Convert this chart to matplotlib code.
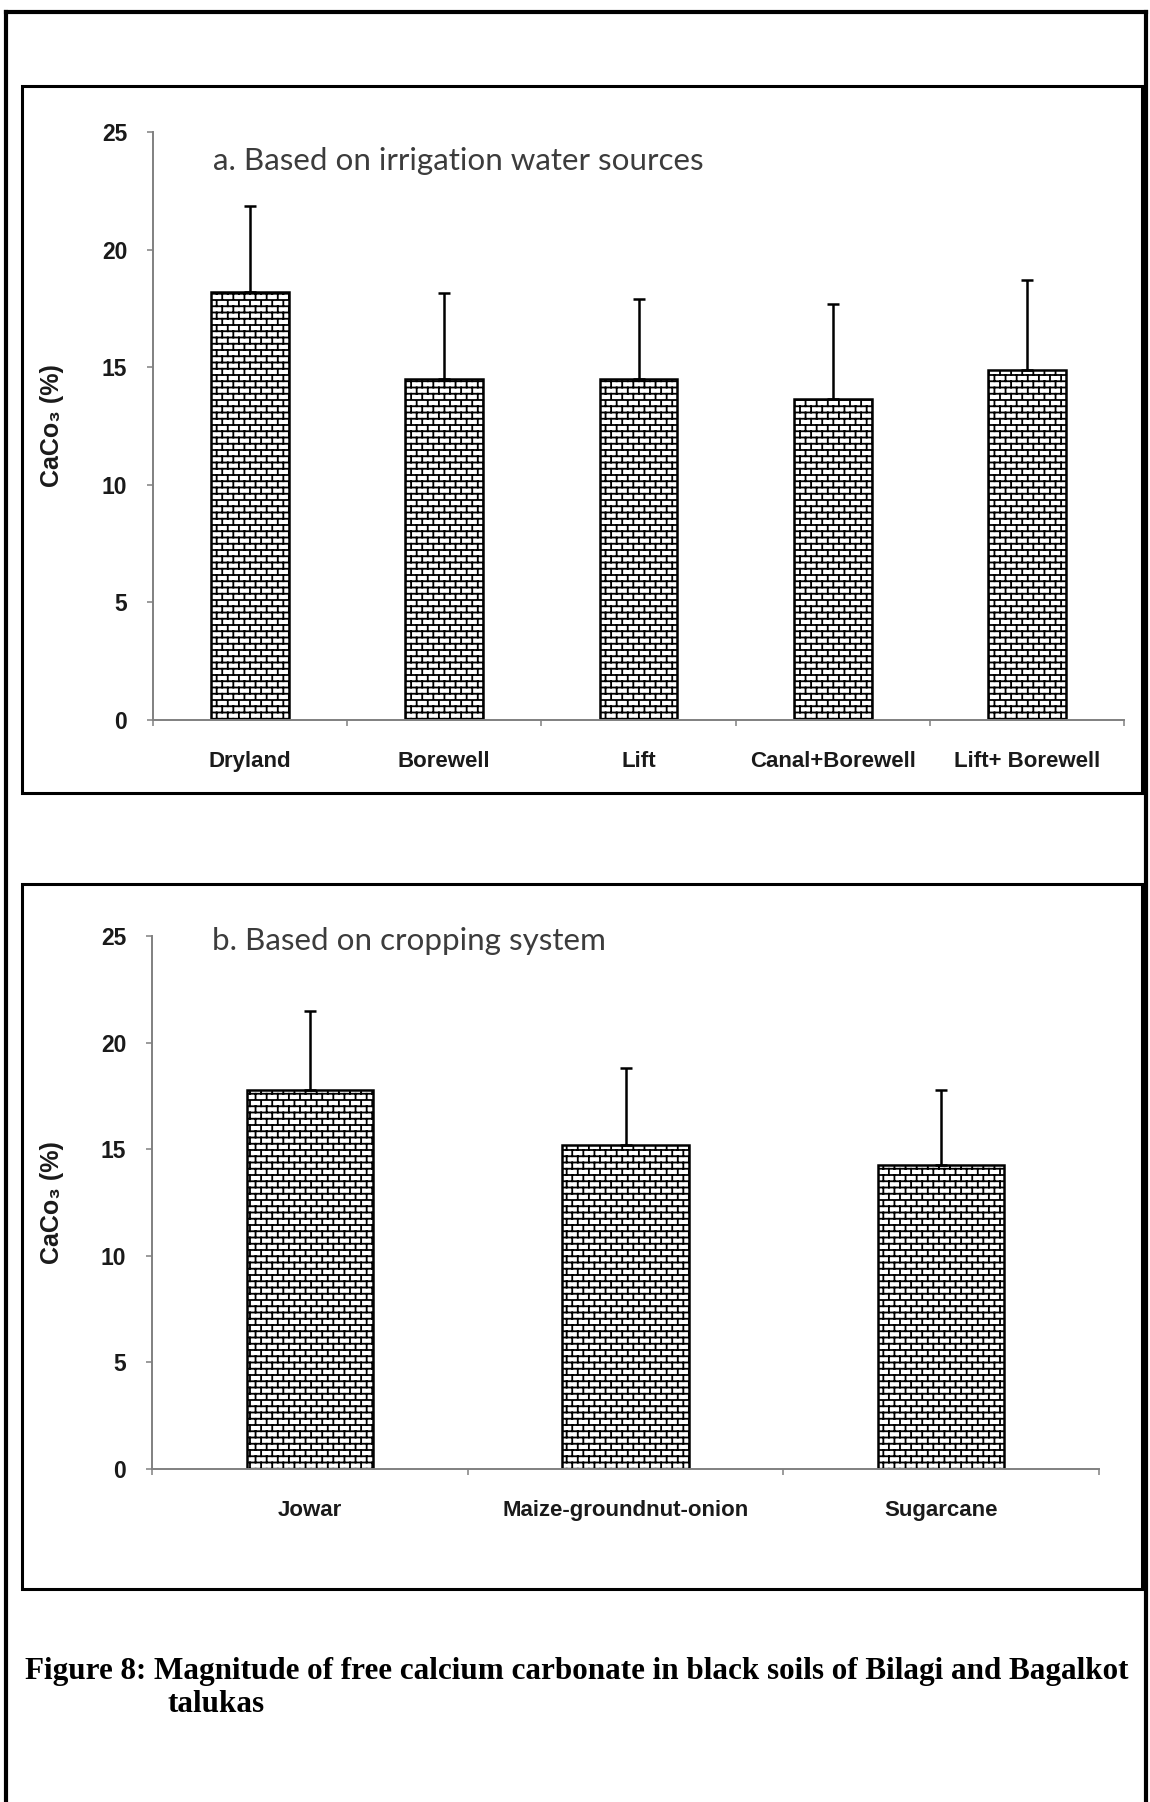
import warnings
import numpy as np
import matplotlib
matplotlib.use('Agg')
import matplotlib.pyplot as plt
import matplotlib.hatch as mhatch
from matplotlib.path import Path
from matplotlib.patches import Rectangle
from matplotlib.lines import Line2D

# verdier lest av figuren
kilder = ['Dryland', 'Borewell', 'Lift', 'Canal+Borewell', 'Lift+ Borewell']
kilde_verdi = [18.2, 14.5, 14.5, 13.65, 14.9]
kilde_sd = [3.65, 3.65, 3.4, 4.05, 3.8]

system = ['Jowar', 'Maize-groundnut-onion', 'Sugarcane']
system_verdi = [17.8, 15.2, 14.25]
system_sd = [3.7, 3.6, 3.55]

yticks = [0, 5, 10, 15, 20, 25]

tittel_a = 'a. Based on irrigation water sources'
tittel_b = 'b. Based on cropping system'
ylabel = 'CaCo\u2083 (%)'
caption1 = 'Figure 8: Magnitude of free calcium carbonate in black soils of Bilagi and Bagalkot'
caption2 = 'talukas'

W, H = 1150, 1802

plt.rcParams['font.family'] = ['Liberation Sans', 'DejaVu Sans']
plt.rcParams['hatch.linewidth'] = 1.3


# murstein-skravur, finnes ikke i matplotlib
class BrickHatch(mhatch.HatchPatternBase):
    def __init__(self, hatch, density):
        n = hatch.count('b')
        self.segs = []
        if n:
            rows, cols = 16 * n, 9 * n
            for k in range(rows + 1):
                self.segs.append(((0, k / rows), (1, k / rows)))
            for k in range(rows):
                if k % 2 == 0:
                    xs = [j / cols for j in range(cols + 1)]
                else:
                    xs = [(j + 0.5) / cols for j in range(cols)]
                for x in xs:
                    self.segs.append(((x, k / rows), (x, (k + 1) / rows)))
        self.num_vertices = 2 * len(self.segs)

    def set_vertices_and_codes(self, vertices, codes):
        for i, (a, b) in enumerate(self.segs):
            vertices[2 * i] = a
            vertices[2 * i + 1] = b
            codes[2 * i] = Path.MOVETO
            codes[2 * i + 1] = Path.LINETO


mhatch._hatch_types.append(BrickHatch)
warnings.filterwarnings('ignore')


def px(x, y):
    return x / W, 1 - y / H


fig = plt.figure(figsize=(W / 100, H / 100), dpi=100)


def lag_panel(left, top, right, bottom, kategorier, verdier, sd):
    x0, y0 = px(left, bottom)
    ax = fig.add_axes([x0, y0, (right - left) / W, (bottom - top) / H])
    x = np.arange(len(kategorier)) + 0.5
    ax.bar(x, verdier, width=0.4, color='white', edgecolor='black',
           linewidth=1.8, hatch='b', zorder=2)
    ax.errorbar(x, verdier, yerr=[np.zeros(len(sd)), sd], fmt='none',
                ecolor='black', elinewidth=1.8, capsize=4.5, capthick=1.8,
                zorder=3)
    ax.set_xlim(0, len(kategorier))
    ax.set_ylim(0, 25)
    ax.set_yticks(yticks)
    ax.set_xticks(x)
    ax.set_xticklabels(kategorier, fontsize=16, fontweight='bold', color='#1a1a1a')
    ax.set_xticks(np.arange(len(kategorier) + 1), minor=True)
    ax.tick_params(axis='x', which='major', length=0, pad=22)
    ax.tick_params(axis='x', which='minor', length=4.5, width=1.1,
                   color='#808080', direction='out')
    ax.tick_params(axis='y', length=4.5, width=1.1, color='#808080',
                   pad=14, labelsize=16.5, labelcolor='#1a1a1a')
    for lbl in ax.get_yticklabels():
        lbl.set_fontweight('bold')
    for s in ['top', 'right']:
        ax.spines[s].set_visible(False)
    for s in ['left', 'bottom']:
        ax.spines[s].set_color('#808080')
        ax.spines[s].set_linewidth(1.4)
    ax.patch.set_alpha(0)
    return ax


ax1 = lag_panel(153, 132, 1124, 720, kilder, kilde_verdi, kilde_sd)
ax2 = lag_panel(152, 936, 1099, 1469, system, system_verdi, system_sd)

# titler inni diagrammet
fig.text(*px(213, 170), tittel_a, ha='left', va='baseline', fontsize=22.6,
         family='Lato', color='#3c3c3c')
fig.text(*px(212, 950), tittel_b, ha='left', va='baseline', fontsize=22.6,
         family='Lato', color='#3c3c3c')

for yc in [426, 1203]:
    fig.text(*px(52, yc), ylabel, rotation=90, ha='center', va='center',
             fontsize=18, fontweight='bold', color='#1a1a1a')

# rammer rundt diagrammene
for top, bottom in [(86, 793), (884, 1589)]:
    x0, y0 = px(22, bottom)
    fig.add_artist(Rectangle((x0, y0), 1120 / W, (bottom - top) / H,
                             transform=fig.transFigure, fill=False,
                             lw=2.2, ec='black'))

# ytre ramme, uten bunn
fig.add_artist(Line2D([6 / W, 6 / W], [0, 1 - 12 / H], lw=3, color='black'))
fig.add_artist(Line2D([1146 / W, 1146 / W], [0, 1 - 12 / H], lw=3, color='black'))
fig.add_artist(Line2D([6 / W, 1146 / W], [1 - 12 / H, 1 - 12 / H], lw=3, color='black'))

fig.text(*px(25, 1679), caption1, ha='left', va='baseline', fontsize=22.4,
         family='Liberation Serif', fontweight='bold', color='black')
fig.text(*px(167, 1712), caption2, ha='left', va='baseline', fontsize=22.4,
         family='Liberation Serif', fontweight='bold', color='black')

fig.savefig('out.png', dpi=100)
